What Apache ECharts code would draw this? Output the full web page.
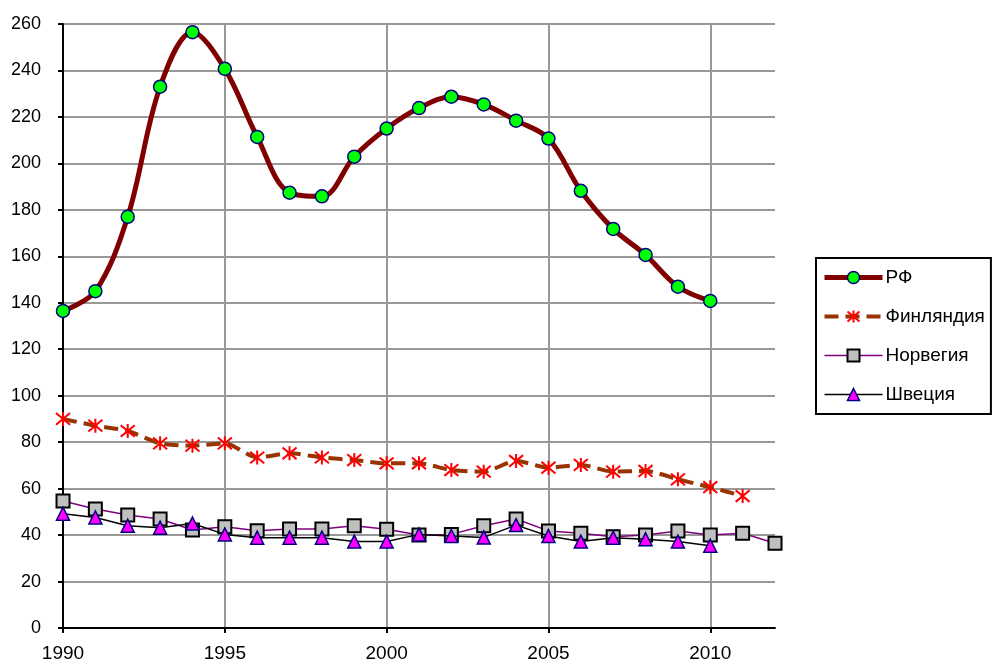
<!DOCTYPE html>
<html>
<head>
<meta charset="utf-8">
<script src="https://cdn.jsdelivr.net/npm/echarts@6/dist/echarts.min.js"></script>
<style>
html,body{margin:0;padding:0;background:#fff;}
#c{width:996px;height:664px;}
</style>
</head>
<body>
<div id="c"></div>
<script>
const years = [1990,1991,1992,1993,1994,1995,1996,1997,1998,1999,2000,2001,2002,2003,2004,2005,2006,2007,2008,2009,2010,2011,2012];
const xTickLabels = [1990,1995,2000,2005,2010];
const seriesNames = ['РФ','Финляндия','Норвегия','Швеция'];
const rf =      [136.5,145,177,233,256.5,240.7,211.4,187.4,185.8,202.9,215,223.8,228.7,225.4,218.4,210.7,188.2,171.8,160.6,146.9,140.8,null,null];
const finland = [90,87.1,84.8,79.5,78.5,79.5,73.4,75.2,73.4,72.3,70.9,70.9,68,67.3,71.9,69,70.2,67.3,67.6,64,60.6,56.8,null];
const norway =  [54.7,51.2,48.6,46.9,42.2,43.6,41.9,42.6,42.6,44,42.5,40,40.3,44,46.9,41.8,40.8,39.3,40,41.8,40,40.8,36.5];
const sweden =  [49.2,47.6,44,43.2,45,40.3,38.9,38.9,38.9,37.2,37.2,40.3,39.6,39,44.3,39.6,37.2,38.9,38.2,37.2,35.4,null,null];

function pairs(arr){ return years.map((y,i)=>[y,arr[i]]).filter(p=>p[1]!=null); }

const chart = echarts.init(document.getElementById('c'), null, {renderer:'canvas'});
const font = 'Liberation Sans, Arial, sans-serif';
const asterisk = 'path://M0,0L10,10M10,0L0,10M5,-1L5,11';

const styles = [
  {line:{color:'#800000',width:5}, symbol:'circle', size:13, item:{color:'#00ff00',borderColor:'#000080',borderWidth:1.5}},
  {line:{color:'#993300',width:4,type:[14,7]}, symbol:asterisk, size:14, item:{color:'#ff0000',borderColor:'#ff0000',borderWidth:2}},
  {line:{color:'#800080',width:1.5}, symbol:'rect', size:13, item:{color:'#c0c0c0',borderColor:'#000',borderWidth:2}},
  {line:{color:'#000',width:1.5}, symbol:'triangle', size:13, item:{color:'#ff00ff',borderColor:'#000080',borderWidth:1.5}}
];
const dataSets = [rf, finland, norway, sweden];

chart.setOption({
  animation:false,
  backgroundColor:'#fff',
  grid:{left:63,right:221,top:24,bottom:36,containLabel:false},
  xAxis:{
    type:'value',min:1990,max:2012,interval:5,
    axisLine:{show:true,lineStyle:{color:'#000',width:2}},
    axisTick:{show:true,length:5,inside:false,lineStyle:{color:'#000',width:2},customValues:xTickLabels},
    axisLabel:{color:'#000',fontSize:19,fontFamily:font,margin:16,customValues:xTickLabels,formatter:v=>String(v)},
    splitLine:{show:true,lineStyle:{color:'#999',width:2}}
  },
  yAxis:{
    type:'value',min:0,max:260,interval:20,
    axisLine:{show:true,lineStyle:{color:'#000',width:2}},
    axisTick:{show:true,length:5,lineStyle:{color:'#000',width:2}},
    axisLabel:{color:'#000',fontSize:18,fontFamily:font,margin:22},
    splitLine:{show:true,lineStyle:{color:'#999',width:2}}
  },
  legend:{
    orient:'vertical',left:816,top:258,
    padding:[10,6,10,6],
    itemWidth:58,itemHeight:15,itemGap:20,
    borderColor:'#000',borderWidth:2,
    textStyle:{color:'#000',fontSize:19,fontFamily:font,padding:[0,0,0,-2]},
    data:seriesNames.map((n,i)=>({name:n,lineStyle:styles[i].line,itemStyle:styles[i].item}))
  },
  series:seriesNames.map((n,i)=>({
    name:n,type:'line',data:pairs(dataSets[i]),
    smooth: i===0 ? 0.35 : (i===1 ? 0.25 : false),
    lineStyle:styles[i].line,
    symbol:styles[i].symbol,symbolSize:styles[i].size,
    itemStyle:styles[i].item,
    z: [5,3,3,4][i]
  }))
});
</script>
</body>
</html>
